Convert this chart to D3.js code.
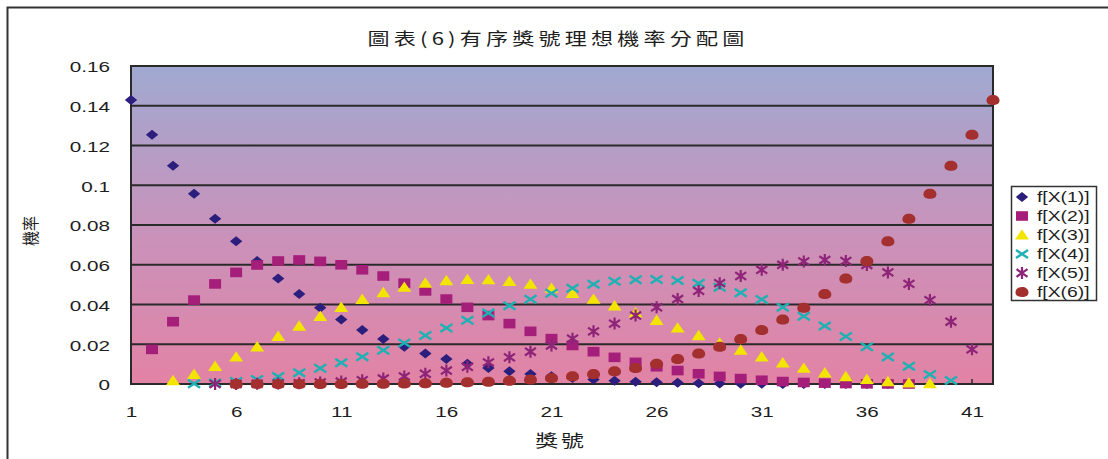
<!DOCTYPE html>
<html>
<head>
<meta charset="utf-8">
<script src="https://cdn.jsdelivr.net/npm/d3@7"></script>
<style>
  body { margin: 0; background: #ffffff; }
  svg { display: block; }
</style>
</head>
<body>
<svg id="chart" width="1108" height="459"></svg>
<script>
// Lottery numbers 1..42 on the category axis
const numbers = [1,2,3,4,5,6,7,8,9,10,11,12,13,14,15,16,17,18,19,20,21,
                 22,23,24,25,26,27,28,29,30,31,32,33,34,35,36,37,38,39,40,41,42];

// Probability of each number being the k-th smallest of six drawn (null = impossible)
const fX1 = [0.142857,0.125436,0.109756,0.095685,0.083095,0.071866,0.061884,0.053044,0.045243,0.038388,
             0.032390,0.027166,0.022638,0.018735,0.015390,0.012540,0.010128,0.008103,0.006414,0.005020,
             0.003879,0.002956,0.002217,0.001633,0.001180,0.000833,0.000572,0.000382,0.000245,0.000151,
             0.000088,0.000048,0.000024,0.000011,0.000004,0.000001,0.0000002,null,null,null,null,null];
const fX2 = [null,0.017422,0.031359,0.042214,0.050360,0.056145,0.059888,0.061884,0.062404,0.061695,
             0.059982,0.057466,0.054332,0.050741,0.046838,0.042749,0.038583,0.034436,0.030384,0.026495,
             0.022818,0.019396,0.016255,0.013416,0.010889,0.008674,0.006765,0.005152,0.003816,0.002736,
             0.001887,0.001241,0.000769,0.000440,0.000227,0.000100,0.000034,0.000007,null,null,null,null];
const fX3 = [null,null,0.001742,0.004824,0.008887,0.013611,0.018715,0.023955,0.029122,0.034039,
             0.038560,0.042568,0.045973,0.048711,0.050741,0.052042,0.052614,0.052473,0.051653,0.050200,
             0.048172,0.045637,0.042670,0.039355,0.035777,0.032026,0.028189,0.024356,0.020609,0.017027,
             0.013682,0.010637,0.007942,0.005637,0.003743,0.002268,0.001201,0.000508,0.000134,null,null,null];
const fX4 = [null,null,null,0.000134,0.000508,0.001201,0.002268,0.003743,0.005637,0.007942,
             0.010637,0.013682,0.017027,0.020609,0.024356,0.028189,0.032026,0.035777,0.039355,0.042670,
             0.045637,0.048172,0.050200,0.051653,0.052473,0.052614,0.052042,0.050741,0.048711,0.045973,
             0.042568,0.038560,0.034039,0.029122,0.023955,0.018715,0.013611,0.008887,0.004824,0.001742,null,null];
const fX5 = [null,null,null,null,0.000007,0.000034,0.000100,0.000227,0.000440,0.000769,
             0.001241,0.001887,0.002736,0.003816,0.005152,0.006765,0.008674,0.010889,0.013416,0.016255,
             0.019396,0.022818,0.026495,0.030384,0.034436,0.038583,0.042749,0.046838,0.050741,0.054332,
             0.057466,0.059982,0.061695,0.062404,0.061884,0.059888,0.056145,0.050360,0.042214,0.031359,0.017422,null];
const fX6 = [null,null,null,null,null,0.0000002,0.000001,0.000004,0.000011,0.000024,
             0.000048,0.000088,0.000151,0.000245,0.000382,0.000572,0.000833,0.001180,0.001633,0.002217,
             0.002956,0.003879,0.005020,0.006414,0.008103,0.010128,0.012540,0.015390,0.018735,0.022638,
             0.027166,0.032390,0.038388,0.045243,0.053044,0.061884,0.071866,0.083095,0.095685,0.109756,0.125436,0.142857];

const seriesNames = ["f[X(1)]","f[X(2)]","f[X(3)]","f[X(4)]","f[X(5)]","f[X(6)]"];
const seriesValues = [fX1, fX2, fX3, fX4, fX5, fX6];

const xTickValues = [1,6,11,16,21,26,31,36,41];
const yTickValues = [0,0.02,0.04,0.06,0.08,0.1,0.12,0.14,0.16];
const yTickLabels = ["0","0.02","0.04","0.06","0.08","0.1","0.12","0.14","0.16"];

const titleText = "圖表(6)有序獎號理想機率分配圖";
const xTitle = "獎號";
const yTitle = "機率";

// ---- styling ----
const latin = "'Liberation Sans', Arial, sans-serif";
const cjk = "'Noto Sans CJK TC', 'Noto Sans CJK SC', sans-serif";
const stretch = 1.38;   // wide lettering used throughout the chart
const ink = "#1e1e1e";
const gridInk = "#2a2a2a";

const markerStyles = [
  { path: "M0,-5L6.2,0L0,5L-6.2,0Z", fill: "#2b1e7c", stroke: "none" },                 // diamond
  { path: "M-6,-4.8H6V4.8H-6Z", fill: "#a51f7a", stroke: "none" },                       // square
  { path: "M0,-5.8L7,4.6H-7Z", fill: "#f3e500", stroke: "none" },                        // triangle
  { path: "M-6,-4L6,4M-6,4L6,-4", fill: "none", stroke: "#1db1b3", width: 2.4 },          // cross
  { path: "M-5.5,-3.8L5.5,3.8M-5.5,3.8L5.5,-3.8M0,-6V6", fill: "none", stroke: "#8e2478", width: 2.2 }, // star
  { path: "M-6.5,0.5C-6.5,-3 -3.5,-5 0,-5C3.5,-5 6.5,-3 6.5,0.5C6.5,3.5 4,5 0,5C-4,5 -6.5,3.5 -6.5,0.5Z",
    fill: "#a3302e", stroke: "none" }                                                    // round
];

const svg = d3.select("#chart");

// Outer chart frame (extends past the canvas on the right and bottom)
svg.append("rect")
  .attr("x", 7.5).attr("y", 7.5).attr("width", 1120).attr("height", 470)
  .attr("fill", "#ffffff").attr("stroke", "#333333").attr("stroke-width", 2);

// ---- scales ----
const plot = { left: 131, right: 993, top: 66, bottom: 384 };
const x = d3.scaleLinear().domain([1, 42]).range([plot.left, plot.right]);
const y = d3.scaleLinear().domain([0, 0.16]).range([plot.bottom, plot.top]);

// Plot background gradient
const defs = svg.append("defs");
const grad = defs.append("linearGradient").attr("id", "bg")
  .attr("x1", 0).attr("y1", 0).attr("x2", 0).attr("y2", 1);
grad.append("stop").attr("offset", "0%").attr("stop-color", "#a0a9d1");
grad.append("stop").attr("offset", "55%").attr("stop-color", "#cb91b9");
grad.append("stop").attr("offset", "100%").attr("stop-color", "#e283a5");

svg.append("rect")
  .attr("x", plot.left).attr("y", plot.top)
  .attr("width", plot.right - plot.left).attr("height", plot.bottom - plot.top)
  .attr("fill", "url(#bg)");

// Horizontal gridlines
svg.append("g")
  .selectAll("line")
  .data(yTickValues.filter(v => v > 0 && v < 0.16))
  .join("line")
  .attr("x1", plot.left).attr("x2", plot.right)
  .attr("y1", d => y(d)).attr("y2", d => y(d))
  .attr("stroke", gridInk).attr("stroke-width", 2);

// Plot border
svg.append("rect")
  .attr("x", plot.left).attr("y", plot.top)
  .attr("width", plot.right - plot.left).attr("height", plot.bottom - plot.top)
  .attr("fill", "none").attr("stroke", gridInk).attr("stroke-width", 2);

// Small inward ticks on the number axis
svg.append("g")
  .selectAll("line")
  .data(xTickValues)
  .join("line")
  .attr("x1", d => x(d)).attr("x2", d => x(d))
  .attr("y1", plot.bottom).attr("y2", plot.bottom - 5)
  .attr("stroke", gridInk).attr("stroke-width", 1.5);

// ---- axes ----
const yAxis = d3.axisLeft(y)
  .tickValues(yTickValues)
  .tickFormat((d, i) => yTickLabels[i])
  .tickSize(0);
const gy = svg.append("g").attr("transform", `translate(${plot.left},0)`).call(yAxis);
gy.select(".domain").remove();
gy.selectAll("text")
  .attr("x", null).attr("dy", null)
  .attr("text-anchor", "end")
  .attr("dominant-baseline", "central")
  .attr("transform", `translate(-21,1) scale(${stretch},1)`)
  .attr("font-family", latin).attr("font-size", 15).attr("fill", ink);

const xAxis = d3.axisBottom(x)
  .tickValues(xTickValues)
  .tickFormat(d3.format("d"))
  .tickSize(0);
const gx = svg.append("g").attr("transform", `translate(0,${plot.bottom})`).call(xAxis);
gx.select(".domain").remove();
gx.selectAll("text")
  .attr("y", null).attr("dy", null)
  .attr("text-anchor", "middle")
  .attr("dominant-baseline", "central")
  .attr("transform", `translate(0,28) scale(${stretch},1)`)
  .attr("font-family", latin).attr("font-size", 15).attr("fill", ink);

// ---- markers ----
seriesValues.forEach((vals, s) => {
  const st = markerStyles[s];
  const pts = numbers.map((n, i) => ({ n, v: vals[i] })).filter(p => p.v !== null);
  svg.append("g")
    .attr("class", "series-" + (s + 1))
    .selectAll("path")
    .data(pts)
    .join("path")
    .attr("transform", p => `translate(${x(p.n)},${y(p.v)})`)
    .attr("d", st.path)
    .attr("fill", st.fill)
    .attr("stroke", st.stroke)
    .attr("stroke-width", st.width || 0);
});

// ---- titles ----
svg.append("text")
  .attr("transform", `translate(558,38) scale(1.3,1)`)
  .attr("text-anchor", "middle")
  .attr("dominant-baseline", "central")
  .attr("font-family", cjk).attr("font-size", 17).attr("fill", ink)
  .attr("letter-spacing", 3.2)
  .text(titleText);

svg.append("text")
  .attr("transform", `translate(561,440) scale(1.35,1)`)
  .attr("text-anchor", "middle")
  .attr("dominant-baseline", "central")
  .attr("font-family", cjk).attr("font-size", 17).attr("fill", ink)
  .attr("letter-spacing", 2)
  .text(xTitle);

svg.append("text")
  .attr("transform", `translate(30,231) scale(1.1,1) rotate(-90)`)
  .attr("text-anchor", "middle")
  .attr("dominant-baseline", "central")
  .attr("font-family", cjk).attr("font-size", 15).attr("fill", ink)
  .text(yTitle);

// ---- legend ----
const legend = svg.append("g");
legend.append("rect")
  .attr("x", 1011.5).attr("y", 186.5).attr("width", 85).attr("height", 114)
  .attr("fill", "#ffffff").attr("stroke", "#333333").attr("stroke-width", 1.5);
const rows = legend.selectAll("g.row")
  .data(seriesNames)
  .join("g")
  .attr("class", "row")
  .attr("transform", (d, i) => `translate(0,${197 + i * 19})`);
rows.append("path")
  .attr("transform", "translate(1022,0)")
  .attr("d", (d, i) => markerStyles[i].path)
  .attr("fill", (d, i) => markerStyles[i].fill)
  .attr("stroke", (d, i) => markerStyles[i].stroke)
  .attr("stroke-width", (d, i) => markerStyles[i].width || 0);
rows.append("text")
  .attr("transform", `translate(1037,0) scale(${stretch},1)`)
  .attr("dominant-baseline", "central")
  .attr("font-family", latin).attr("font-size", 14).attr("fill", ink)
  .text(d => d);
</script>
</body>
</html>
